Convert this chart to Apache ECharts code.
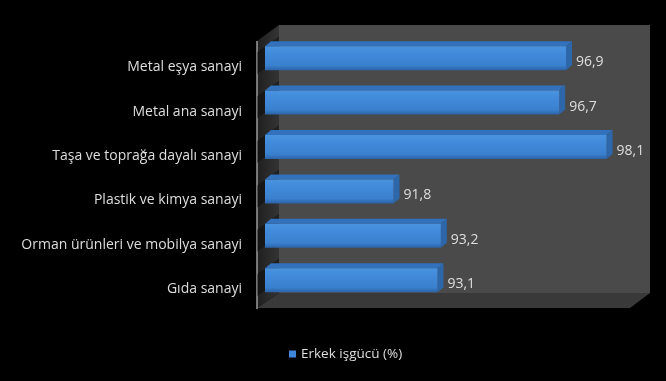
<!DOCTYPE html>
<html>
<head>
<meta charset="utf-8">
<script src="https://cdn.jsdelivr.net/npm/echarts@6/dist/echarts.min.js"></script>
<style>
  html, body { margin: 0; padding: 0; background: #000; }
  #chart { width: 666px; height: 381px; }
</style>
</head>
<body>
<div id="chart"></div>
<script>
// Sectors (top to bottom) and male share of the workforce, in percent
const categories = [
  'Metal eşya sanayi',
  'Metal ana sanayi',
  'Taşa ve toprağa dayalı sanayi',
  'Plastik ve kimya sanayi',
  'Orman ürünleri ve mobilya sanayi',
  'Gıda sanayi'
];
const maleShare = [96.9, 96.7, 98.1, 91.8, 93.2, 93.1];
const seriesName = 'Erkek işgücü (%)';

const AXIS_MIN = 88;
const AXIS_MAX = 99;

// plot box and 3D depth offsets
const G = { left: 265, top: 36, width: 372, height: 266.4 };
const DX = 6, DY = 5;      // bar depth
const WD = 22, WH = 16;    // wall depth

const chart = echarts.init(document.getElementById('chart'), null, { renderer: 'canvas' });

const fontFam = '"Open Sans", Lato, sans-serif';

// back wall, floor and side wall of the 3D box
const wallL = 257, wallTopFront = 41, floorFront = 308;
const backL = wallL + WD, backTop = wallTopFront - WH, backR = 650, floorBack = floorFront - 15;
const box = [
  { type: 'rect', shape: { x: backL, y: backTop, width: backR - backL, height: floorBack - backTop },
    style: { fill: '#4a4a4a' }, z: -10 },
  { type: 'polygon', shape: { points: [[wallL, floorFront], [backR - 20, floorFront], [backR, floorBack], [backL, floorBack]] },
    style: { fill: '#393939' }, z: -10 },
  { type: 'polygon', shape: { points: [[wallL, wallTopFront], [backL, backTop], [backL, floorBack], [wallL, floorFront]] },
    style: { fill: new echarts.graphic.LinearGradient(0, 0, 1, 0, [
      { offset: 0, color: '#1f1f1f' }, { offset: 1, color: '#343434' }]) }, z: -10 },
  { type: 'line', shape: { x1: wallL, y1: wallTopFront, x2: wallL, y2: floorFront + 1 },
    style: { stroke: '#9c9c9c', lineWidth: 1.5 }, z: -9 }
];

function renderBar(params, api) {
  const i = api.value(0);
  const v = api.value(1);
  const start = api.coord([AXIS_MIN, i]);
  const end = api.coord([v, i]);
  const band = api.size([0, 1])[1];
  const h = band * 0.54;
  const x0 = start[0], x1 = end[0];
  const y0 = start[1] - h / 2, y1 = start[1] + h / 2;
  const front = new echarts.graphic.LinearGradient(0, 0, 0, 1, [
    { offset: 0, color: '#4a93e0' },
    { offset: 0.25, color: '#438cdb' },
    { offset: 0.8, color: '#3a80cf' },
    { offset: 1, color: '#2b63a6' }
  ]);
  // bar shadow on the side wall
  const shadow = {
    type: 'polygon',
    shape: { points: [[wallL, y0 + 6], [wallL + WD, y0 + 6 - WH], [wallL + WD, y1 - WH + 4], [wallL, y1 + 4]] },
    style: { fill: 'rgba(0,0,0,0.35)' }, z2: -1
  };
  return {
    type: 'group',
    children: [
      shadow,
      { type: 'polygon',
        shape: { points: [[x0, y0], [x0 + DX, y0 - DY], [x1 + DX, y0 - DY], [x1, y0]] },
        style: { fill: '#3271bb' } },
      { type: 'polygon',
        shape: { points: [[x1, y0], [x1 + DX, y0 - DY], [x1 + DX, y1 - DY], [x1, y1]] },
        style: { fill: '#2d66a9' } },
      { type: 'rect',
        shape: { x: x0, y: y0, width: x1 - x0, height: y1 - y0 },
        style: { fill: front } },
      { type: 'text',
        style: {
          x: x1 + DX + 4, y: start[1] + 4,
          text: String(v).replace('.', ','),
          fill: '#dedede', font: '14px ' + fontFam,
          verticalAlign: 'middle', align: 'left'
        } }
    ]
  };
}

chart.setOption({
  backgroundColor: '#000',
  animation: false,
  graphic: box,
  grid: { left: G.left, top: G.top, width: G.width, height: G.height, containLabel: false },
  legend: {
    data: [seriesName],
    left: 284, top: 342,
    icon: 'rect', itemWidth: 7, itemHeight: 7, itemGap: 4,
    textStyle: { color: '#dedede', fontSize: 13.5, fontFamily: fontFam }
  },
  xAxis: {
    type: 'value', min: AXIS_MIN, max: AXIS_MAX,
    show: false
  },
  yAxis: {
    type: 'category', data: categories, inverse: true,
    axisLine: { show: false }, axisTick: { show: false }, splitLine: { show: false },
    axisLabel: {
      color: '#dedede', fontSize: 14, fontFamily: fontFam,
      margin: 23, verticalAlign: 'top', lineHeight: 18
    }
  },
  series: [{
    name: seriesName,
    type: 'custom',
    renderItem: renderBar,
    encode: { x: 1, y: 0 },
    itemStyle: { color: '#3f87d8' },
    data: maleShare.map((v, i) => [i, v])
  }]
});
</script>
</body>
</html>
